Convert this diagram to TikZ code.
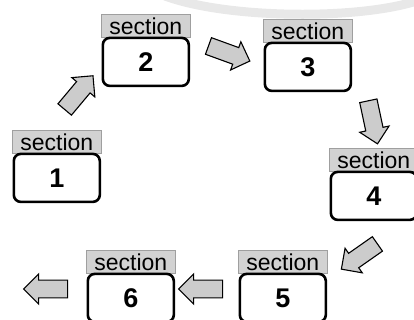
\documentclass[tikz,border=0pt]{standalone}
\usepackage{fontspec}
\setmainfont{Liberation Sans}
\usetikzlibrary{shapes.arrows}
\tikzset{
  lab/.style={rectangle, fill=gray!35, draw=gray!75, line width=0.6pt, minimum width=89pt, minimum height=23pt, inner sep=0pt, anchor=north west, font=\fontsize{23}{23}\selectfont},
  numbox/.style={rectangle, draw=black, line width=2.6pt, rounded corners=7pt, fill=white, minimum width=86pt, minimum height=48pt, inner sep=0pt, anchor=north, font=\bfseries\fontsize{27}{27}\selectfont},
  blk/.style={single arrow, draw=black, line width=1.1pt, fill=gray!40, minimum width=30pt, minimum height=44pt, single arrow head extend=6pt, inner xsep=0pt, inner ysep=8pt, text height=0pt, text depth=0pt},
}
\begin{document}
\begin{tikzpicture}[x=1pt, y=-1pt]
\useasboundingbox (0,0) rectangle (414,320);
% faint background arc
\draw[gray!18, line width=9pt] (165,-4) .. controls (230,20) and (370,20) .. (425,-2);
% sections
\node[lab] (l1) at (12,130) {section};
\node[numbox, yshift=1pt] (n1) at (l1.south) {1};
\node[lab] (l2) at (101,14) {section};
\node[numbox, yshift=1pt] (n2) at (l2.south) {2};
\node[lab] (l3) at (263,19) {section};
\node[numbox, yshift=1pt] (n3) at (l3.south) {3};
\node[lab] (l4) at (329,148) {section};
\node[numbox, yshift=1pt] (n4) at (l4.south) {4};
\node[lab] (l5) at (238,250) {section};
\node[numbox, yshift=1pt] (n5) at (l5.south) {5};
\node[lab] (l6) at (86,250) {section};
\node[numbox, yshift=1pt] (n6) at (l6.south) {6};
% block arrows
\node[blk, rotate=50] (a12) at (76,96) {};
\node[blk, rotate=-20] (a23) at (225,52) {};
\node[blk, rotate=-78] (a34) at (372,118) {};
\node[blk, rotate=215] (a45) at (363,254) {};
\node[blk, rotate=180] (a56) at (205,289) {};
\node[blk, rotate=180] (a6o) at (50,289) {};
\end{tikzpicture}
\end{document}
